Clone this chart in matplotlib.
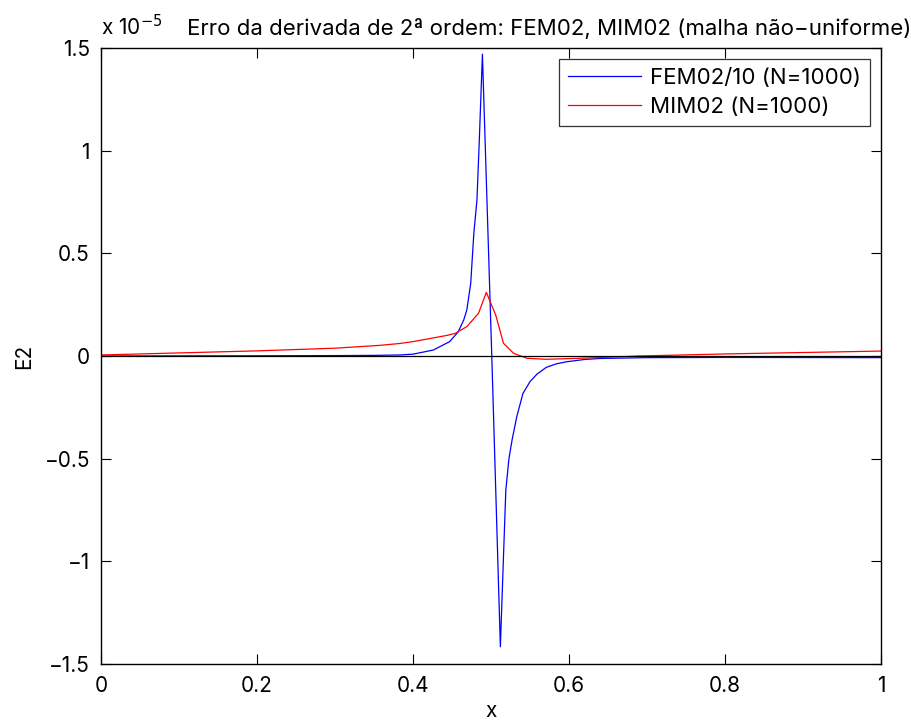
import matplotlib
matplotlib.use("Agg")
import matplotlib.pyplot as plt
from matplotlib.ticker import FuncFormatter

plt.rcParams['font.family'] = ['Inter', 'DejaVu Sans']
plt.rcParams['axes.unicode_minus'] = True

# Values in units of 1e-5
fem_x = [0.0, 0.2, 0.3, 0.35, 0.383, 0.40, 0.426, 0.447, 0.458, 0.465, 0.469, 0.474, 0.478,
         0.482, 0.485, 0.489, 0.501, 0.512, 0.516, 0.519, 0.523, 0.527, 0.533, 0.541, 0.550,
         0.559, 0.571, 0.584, 0.597, 0.62, 0.64, 0.7, 0.8, 1.0]
fem_y = [0.0, 0.001, 0.002, 0.003, 0.005, 0.009, 0.029, 0.070, 0.118, 0.175, 0.224, 0.354, 0.598,
         0.76, 1.05, 1.47, 0.0, -1.416, -0.977, -0.653, -0.50, -0.409, -0.296, -0.182, -0.125,
         -0.088, -0.055, -0.038, -0.028, -0.017, -0.012, -0.008, -0.007, -0.008]

mim_x = [0.0, 0.1, 0.2, 0.3, 0.358, 0.383, 0.40, 0.443, 0.454, 0.469, 0.484, 0.494, 0.506,
         0.516, 0.529, 0.546, 0.571, 0.614, 0.69, 0.8, 0.9, 1.0]
mim_y = [0.005, 0.015, 0.025, 0.038, 0.052, 0.061, 0.07, 0.10, 0.11, 0.143, 0.208, 0.31, 0.20,
         0.062, 0.013, -0.011, -0.016, -0.011, 0.0, 0.01, 0.017, 0.024]

xticks = [0, 0.2, 0.4, 0.6, 0.8, 1]
yticks = [-1.5, -1, -0.5, 0, 0.5, 1, 1.5]

FS = 15
FS2 = 16

fig = plt.figure(figsize=(9.11, 7.22), dpi=100)
ax = fig.add_axes([101/911, 58/722, 780/911, 616/722])

ax.plot(fem_x, fem_y, color='blue', lw=0.9, label='FEM02/10 (N=1000)')
ax.plot(mim_x, mim_y, color='red', lw=0.9, label='MIM02 (N=1000)')
ax.axhline(0, color='black', lw=0.9)

ax.set_xlim(0, 1)
ax.set_ylim(-1.5, 1.5)
ax.set_xticks(xticks)
ax.set_yticks(yticks)
fmt = FuncFormatter(lambda v, p: ('%g' % v).replace('-', '\u2212'))
ax.xaxis.set_major_formatter(fmt)
ax.yaxis.set_major_formatter(fmt)
ax.tick_params(direction='in', top=True, right=True, labelsize=FS, length=7, width=0.8)
ax.tick_params(axis='x', pad=9)
ax.tick_params(axis='y', pad=8)
for s in ax.spines.values():
    s.set_linewidth(1.0)

ax.set_xlabel('x', fontsize=FS, labelpad=3)
ax.set_ylabel('E2', fontsize=FS)
ax.yaxis.set_label_coords((34 - 101) / 780, 0.5)

fig.text(101/911, 1 - 35/722, r'x 10$^{-5}$', fontsize=FS, ha='left', va='baseline')
fig.text(187/911, 1 - 35/722, 'Erro da derivada de 2ª ordem: FEM02, MIM02 (malha não\u2212uniforme)',
         fontsize=FS2, ha='left', va='baseline')

leg = ax.legend(loc='upper right', fontsize=FS2, frameon=True, fancybox=False,
                edgecolor='black', handlelength=3.3, handletextpad=0.4,
                borderaxespad=0.5, labelspacing=0.4, borderpad=0.4)
leg.get_frame().set_linewidth(0.9)

fig.savefig('out.png', dpi=100)
